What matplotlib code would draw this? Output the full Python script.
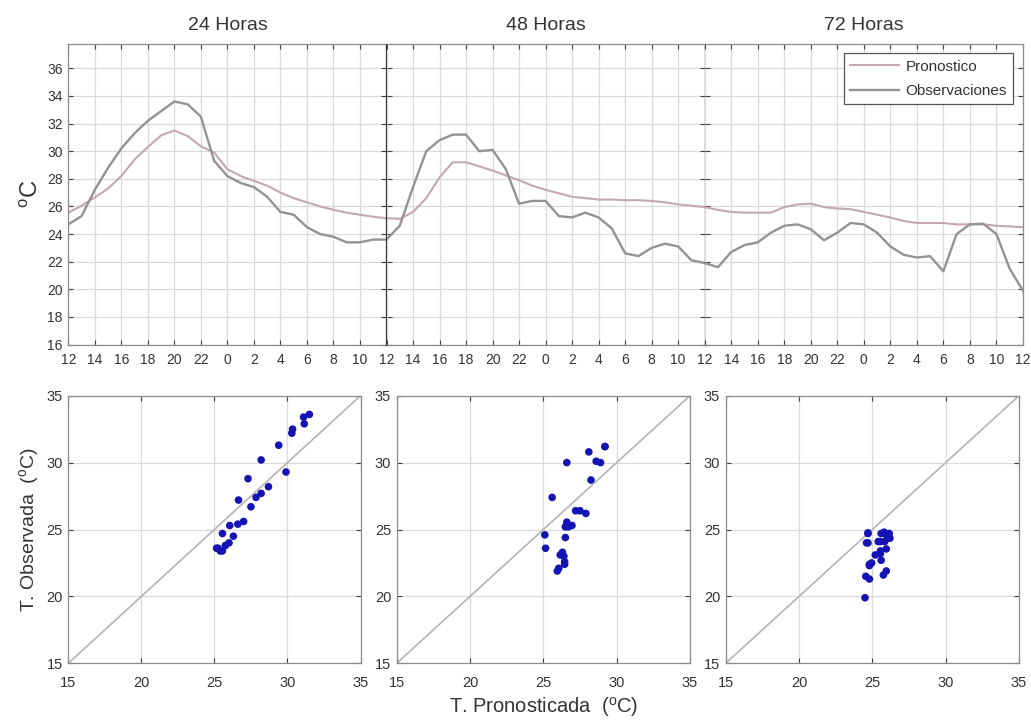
import matplotlib
matplotlib.use('Agg')
import matplotlib.pyplot as plt
import numpy as np

plt.rcParams['font.family'] = ['Liberation Sans', 'DejaVu Sans']
plt.rcParams['mathtext.fontset'] = 'custom'
plt.rcParams['mathtext.rm'] = 'Liberation Sans'
plt.rcParams['mathtext.it'] = 'Liberation Sans:italic'
plt.rcParams['mathtext.default'] = 'regular'

# ---------------- data (hourly, 72 h forecast starting at 12 h) ----------------
hours = np.arange(73)
pronostico = [25.55, 26.05, 26.65, 27.3, 28.2, 29.4, 30.3, 31.15, 31.5, 31.1,
              30.35, 29.9, 28.7, 28.2, 27.85, 27.5, 27.0, 26.6, 26.3, 26.0,
              25.75, 25.55, 25.4, 25.25, 25.15, 25.1, 25.6, 26.6, 28.1, 29.2,
              29.2, 28.9, 28.6, 28.25, 27.9, 27.5, 27.2, 26.95, 26.7, 26.6,
              26.5, 26.5, 26.45, 26.45, 26.4, 26.3, 26.15, 26.05, 25.95, 25.75,
              25.6, 25.55, 25.55, 25.55, 25.95, 26.15, 26.2, 25.95, 25.85, 25.8,
              25.6, 25.4, 25.2, 24.95, 24.8, 24.8, 24.8, 24.7, 24.7, 24.7,
              24.6, 24.55, 24.5]
observaciones = [24.7, 25.3, 27.2, 28.8, 30.2, 31.3, 32.2, 32.9, 33.6, 33.4,
                 32.5, 29.3, 28.2, 27.7, 27.4, 26.7, 25.6, 25.4, 24.5, 24.0,
                 23.8, 23.4, 23.4, 23.6, 23.6, 24.6, 27.4, 30.0, 30.8, 31.2,
                 31.2, 30.0, 30.1, 28.7, 26.2, 26.4, 26.4, 25.3, 25.2, 25.55,
                 25.2, 24.4, 22.6, 22.4, 23.0, 23.3, 23.1, 22.1, 21.9, 21.6,
                 22.7, 23.2, 23.4, 24.1, 24.6, 24.7, 24.35, 23.55, 24.1, 24.8,
                 24.7, 24.1, 23.1, 22.5, 22.3, 22.4, 21.3, 24.0, 24.7, 24.75,
                 24.0, 21.5, 19.9]
panel_titles = ['24 Horas', '48 Horas', '72 Horas']
hour_ticks = list(range(0, 25, 2))
hour_labels = [str((12 + h) % 24) for h in hour_ticks]
temp_ticks = list(range(16, 37, 2))
temp_lim = (16, 37.8)
scatter_ticks = [15, 20, 25, 30, 35]

# ---------------- styling ----------------
C_PRON = '#c3a9ad'
C_OBS = '#939393'
C_GRID = '#dadada'
C_SPINE = '#8c8c8c'
C_DIV = '#3a3a3a'
C_TEXT = '#333333'
C_DOT = '#1414b4'

W, H = 1031, 726
fig = plt.figure(figsize=(W / 100, H / 100), dpi=100)


def ax_px(l, t, r, b):
    return fig.add_axes([l / W, 1 - b / H, (r - l) / W, (b - t) / H])


def style_ticks(ax, size):
    ax.tick_params(direction='in', length=3.5, width=0.8, color='#404040',
                   top=True, right=True, labelsize=size, labelcolor=C_TEXT)


# ---------------- top time series ----------------
top_l, top_r, top_t, top_b = 68.3, 1022.9, 43.5, 344.5
pw = (top_r - top_l) / 3
for i in range(3):
    ax = ax_px(top_l + i * pw, top_t, top_l + (i + 1) * pw, top_b)
    sl = slice(24 * i, 24 * i + 25)
    x = hours[sl] - 24 * i
    lp, = ax.plot(x, pronostico[sl], color=C_PRON, lw=1.5, label='Pronostico')
    lo, = ax.plot(x, observaciones[sl], color=C_OBS, lw=1.7, label='Observaciones')
    ax.set_xlim(0, 24)
    ax.set_ylim(*temp_lim)
    ax.set_xticks(hour_ticks)
    labels = list(hour_labels)
    if i > 0:
        labels[0] = ''  # shared boundary label drawn by the previous panel
    ax.set_xticklabels(labels)
    ax.set_yticks(temp_ticks)
    ax.grid(True, color=C_GRID, lw=0.9)
    ax.set_axisbelow(True)
    style_ticks(ax, 10)
    ax.tick_params(axis='x', pad=6)
    ax.tick_params(axis='y', pad=4)
    if i > 0:
        ax.tick_params(axis='y', labelleft=False)
    for s in ax.spines.values():
        s.set_color(C_SPINE)
        s.set_linewidth(0.9)
    if i < 2:
        ax.spines['right'].set_color(C_DIV)
        ax.spines['right'].set_linewidth(0.9)
        ax.spines['right'].set_zorder(5)
    if i > 0:
        ax.spines['left'].set_visible(False)
    ax.set_title(panel_titles[i], fontsize=14, color=C_TEXT, pad=10)
    if i == 0:
        ax.set_ylabel(r'$^{o}$C', fontsize=17, color=C_TEXT, labelpad=3)
    if i == 2:
        leg = ax.legend(handles=[lp, lo], loc='upper right', fontsize=11,
                        fancybox=False, framealpha=1, edgecolor='#555555',
                        borderaxespad=0.65, handlelength=3.2, handletextpad=0.4,
                        borderpad=0.4, labelspacing=0.7)
        leg.get_frame().set_linewidth(0.9)
        for t in leg.get_texts():
            t.set_color(C_TEXT)

# ---------------- bottom scatter plots ----------------
sc_t, sc_b = 395.7, 663.3
sc_lr = [(68.3, 360.5), (396.7, 690.0), (725.7, 1019.0)]
lims = (scatter_ticks[0], scatter_ticks[-1])
for i, (l, r) in enumerate(sc_lr):
    ax = ax_px(l, sc_t, r, sc_b)
    sl = slice(24 * i, 24 * i + 25)
    ax.plot(lims, lims, color='#b4b4b4', lw=1.2, zorder=2)
    ax.scatter(pronostico[sl], observaciones[sl], s=30, color=C_DOT,
               edgecolors='none', zorder=3)
    ax.set_xlim(*lims)
    ax.set_ylim(*lims)
    ax.set_xticks(scatter_ticks)
    ax.set_yticks(scatter_ticks)
    ax.grid(True, color=C_GRID, lw=0.9)
    ax.set_axisbelow(True)
    style_ticks(ax, 10.5)
    ax.tick_params(axis='x', pad=9)
    ax.tick_params(axis='y', pad=4)
    for s in ax.spines.values():
        s.set_color(C_SPINE)
        s.set_linewidth(0.9)
    if i == 0:
        ax.set_ylabel(r'T. Observada  ($^{o}$C)', fontsize=14, color=C_TEXT,
                      labelpad=4)
    if i == 1:
        ax.set_xlabel(r'T. Pronosticada  ($^{o}$C)', fontsize=14.5,
                      color=C_TEXT, labelpad=4)

fig.savefig('out.png', dpi=100)
